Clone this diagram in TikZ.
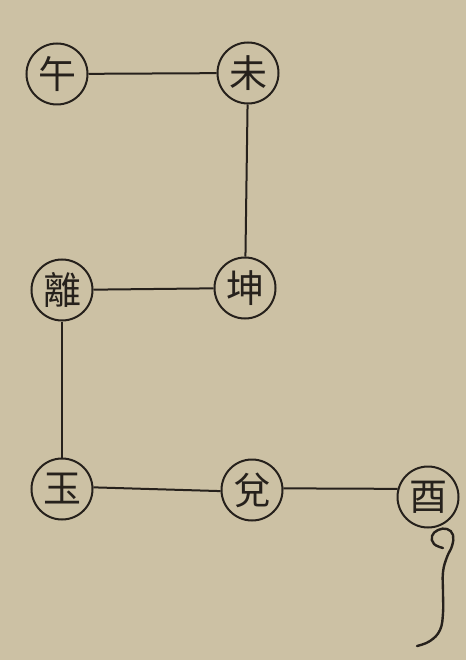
\documentclass[tikz,border=0pt]{standalone}
\usepackage{fontspec}
\newfontfamily\cjk{Noto Sans CJK SC}
\definecolor{paper}{RGB}{204,193,164}
\definecolor{ink}{RGB}{38,33,28}
\begin{document}
\begin{tikzpicture}[x=1pt,y=-1pt,
  stone/.style={circle,draw=ink,line width=2pt,minimum size=61pt,inner sep=0pt,
    font=\cjk\fontsize{38}{38}\selectfont,text=ink},
  link/.style={draw=ink,line width=2pt}]
\fill[paper] (0,0) rectangle (466,660);
\useasboundingbox (0,0) rectangle (466,660);
\node[stone] (wu)  at (57,74)  {午};
\node[stone] (wei) at (248,73) {未};
\node[stone] (li)  at (62,290) {離};
\node[stone] (kun) at (245,288) {坤};
\node[stone] (yu)  at (62,489) {玉};
\node[stone] (dui) at (252,490) {兌};
\node[stone] (you) at (428,497) {酉};
\draw[link] (wu) -- (wei);
\draw[link] (wei) -- (kun);
\draw[link] (li) -- (kun);
\draw[link] (li) -- (yu);
\draw[link] (yu.3) -- (dui.182);
\draw[link] (dui.3) -- (you.165);
\draw[link,line width=2.4pt,line cap=round] plot[smooth,tension=0.7] coordinates {
  (443,548) (434,544) (432,536) (438,530) (447,529) (453,535) (452,546)
  (447,557) (443,572) (443,593) (443,613) (440,630) (430,641) (417,646)};
\end{tikzpicture}
\end{document}
